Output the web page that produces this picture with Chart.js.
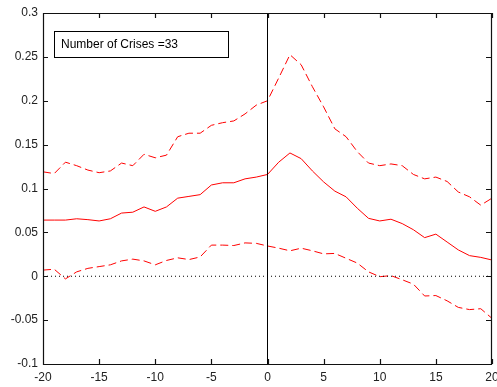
<!DOCTYPE html>
<html>
<head>
<meta charset="utf-8">
<script src="https://cdn.jsdelivr.net/npm/chart.js@4.4.0/dist/chart.umd.min.js"></script>
<style>
  html, body { margin: 0; padding: 0; background: #fff; }
</style>
</head>
<body>
<canvas id="crisisChart" width="497" height="387"></canvas>
<script>
// Event window (quarters around the crisis)
const lags = [-20, -19, -18, -17, -16, -15, -14, -13, -12, -11, -10, -9, -8, -7, -6, -5, -4, -3, -2, -1,
    0, 1, 2, 3, 4, 5, 6, 7, 8, 9, 10, 11, 12, 13, 14, 15, 16, 17, 18, 19, 20];

// Mean response
const meanPath = [0.064, 0.064, 0.064, 0.0655, 0.0645, 0.063, 0.0655, 0.072, 0.073, 0.079, 0.074, 0.079, 0.089, 0.091, 0.093, 0.104, 0.1065, 0.1065, 0.111, 0.113,
    0.116, 0.130, 0.1405, 0.134, 0.120, 0.1075, 0.097, 0.0905, 0.0775, 0.066, 0.063, 0.065, 0.060, 0.053, 0.044, 0.048, 0.039, 0.030, 0.0235, 0.0215, 0.0185];

// Confidence bands
const upperBand = [0.119, 0.117, 0.130, 0.126, 0.121, 0.118, 0.120, 0.129, 0.126, 0.139, 0.135, 0.138, 0.159, 0.163, 0.163, 0.172, 0.175, 0.177, 0.185, 0.195,
    0.200, 0.226, 0.2525, 0.241, 0.216, 0.193, 0.168, 0.159, 0.142, 0.129, 0.126, 0.128, 0.126, 0.116, 0.111, 0.113, 0.108, 0.096, 0.0905, 0.081, 0.089];
const lowerBand = [0.007, 0.008, -0.003, 0.005, 0.009, 0.011, 0.013, 0.0175, 0.0195, 0.0175, 0.013, 0.018, 0.021, 0.019, 0.022, 0.0355, 0.0355, 0.035, 0.038, 0.0375,
    0.0345, 0.032, 0.029, 0.032, 0.029, 0.0255, 0.026, 0.0205, 0.015, 0.005, -0.0005, 0.0007, -0.004, -0.009, -0.0225, -0.022, -0.028, -0.0355, -0.038, -0.037, -0.048];

const xTicks = [-20, -15, -10, -5, 0, 5, 10, 15, 20];
const yTicks = [-0.1, -0.05, 0, 0.05, 0.1, 0.15, 0.2, 0.25, 0.3];
const legendText = 'Number of Crises =33';

const pts = arr => arr.map((v, i) => ({ x: lags[i], y: v }));
const FONT = '"Liberation Sans", Arial, sans-serif';

// axes frame with inward tick marks, plus the annotation box
const axesBox = {
    id: 'axesBox',
    afterDraw(chart) {
        const ctx = chart.ctx;
        const a = chart.chartArea;
        const sx = chart.scales.x, sy = chart.scales.y;
        const L = Math.round(a.left), R = Math.round(a.right) - 1;
        const T = Math.round(a.top), B = Math.round(a.bottom);
        ctx.save();
        ctx.setLineDash([]);
        ctx.strokeStyle = '#111';
        ctx.lineWidth = 1.2;
        ctx.beginPath();
        ctx.rect(L + 0.5, T + 0.5, R - L, B - T);
        xTicks.forEach(t => {
            const px = Math.round(sx.getPixelForValue(t)) + 0.5;
            ctx.moveTo(px, T); ctx.lineTo(px, T + 5);
            ctx.moveTo(px, B); ctx.lineTo(px, B - 5);
        });
        yTicks.forEach(t => {
            const py = Math.round(sy.getPixelForValue(t)) + 0.5;
            ctx.moveTo(L, py); ctx.lineTo(L + 5, py);
            ctx.moveTo(R, py); ctx.lineTo(R - 5, py);
        });
        ctx.stroke();

        ctx.lineWidth = 1;
        ctx.strokeStyle = '#000';
        ctx.strokeRect(54.5, 31.5, 174, 26);
        ctx.fillStyle = '#000';
        ctx.font = '12px ' + FONT;
        ctx.textBaseline = 'middle';
        ctx.fillText(legendText, 61, 44.5);
        ctx.restore();
    }
};

new Chart(document.getElementById('crisisChart'), {
    type: 'line',
    data: {
        datasets: [
            {
                data: [{ x: -20, y: 0 }, { x: 20, y: 0 }],
                borderColor: '#000', borderWidth: 1, borderDash: [1, 3]
            },
            {
                data: [{ x: 0, y: -0.1 }, { x: 0, y: 0.3 }],
                borderColor: '#000', borderWidth: 1
            },
            {
                data: pts(upperBand),
                borderColor: '#ff0000', borderWidth: 1, borderDash: [8, 4]
            },
            {
                data: pts(meanPath),
                borderColor: '#ff0000', borderWidth: 1
            },
            {
                data: pts(lowerBand),
                borderColor: '#ff0000', borderWidth: 1, borderDash: [8, 4]
            }
        ]
    },
    options: {
        responsive: false,
        animation: false,
        events: [],
        layout: { padding: { top: 13, right: 5, left: 0, bottom: 0 } },
        elements: { point: { radius: 0 }, line: { tension: 0 } },
        plugins: { legend: { display: false }, tooltip: { enabled: false } },
        scales: {
            x: {
                type: 'linear',
                min: -20, max: 20,
                afterBuildTicks: s => { s.ticks = xTicks.map(v => ({ value: v })); },
                afterFit: s => { s.height = 23; s.paddingLeft = 0; s.paddingRight = 0; },
                grid: { display: false, drawTicks: false },
                border: { display: false },
                ticks: {
                    padding: 6,
                    color: '#222',
                    font: { family: FONT, size: 12 },
                    callback: v => String(v),
                    maxRotation: 0
                }
            },
            y: {
                min: -0.1, max: 0.3,
                afterBuildTicks: s => { s.ticks = yTicks.map(v => ({ value: v })); },
                afterFit: s => { s.width = 43; },
                grid: { display: false, drawTicks: false },
                border: { display: false },
                ticks: {
                    padding: 5,
                    color: '#222',
                    font: { family: FONT, size: 12 },
                    callback: v => String(Math.round(v * 100) / 100)
                }
            }
        }
    },
    plugins: [axesBox]
});
</script>
</body>
</html>
